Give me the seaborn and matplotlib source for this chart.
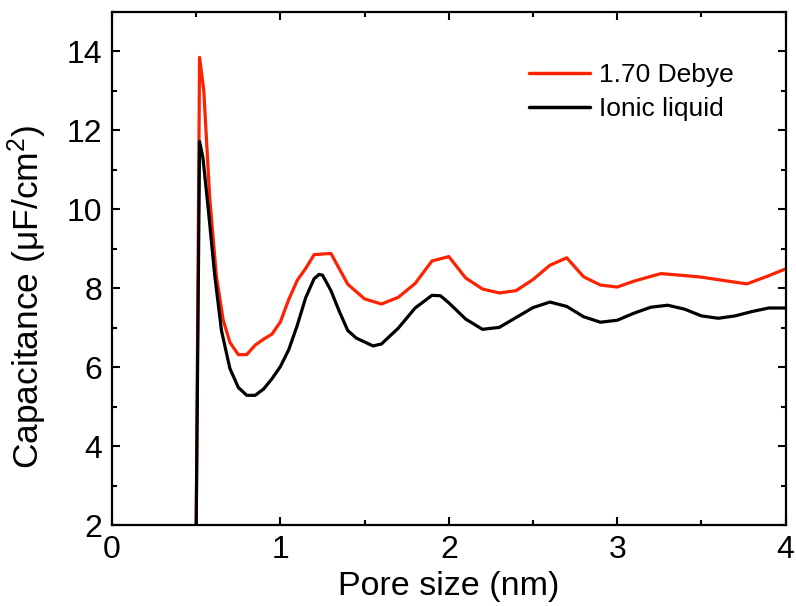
import matplotlib
matplotlib.use("Agg")
import matplotlib.pyplot as plt
from matplotlib.ticker import MultipleLocator
import seaborn as sns
import pandas as pd

# ---- data ----
debye_x = [0.50, 0.52, 0.545, 0.58, 0.62, 0.66, 0.70, 0.75, 0.80, 0.85, 0.90, 0.95,
           1.00, 1.05, 1.10, 1.15, 1.20, 1.30, 1.40, 1.50, 1.60, 1.70, 1.80, 1.90,
           2.00, 2.10, 2.20, 2.30, 2.40, 2.50, 2.60, 2.70, 2.80, 2.90, 3.00, 3.10,
           3.20, 3.26, 3.40, 3.50, 3.64, 3.77, 3.89, 4.00]
debye_y = [2.0, 13.84, 13.0, 10.3, 8.3, 7.2, 6.63, 6.32, 6.32, 6.56, 6.71, 6.84,
           7.15, 7.72, 8.2, 8.5, 8.85, 8.88, 8.1, 7.73, 7.6, 7.77, 8.12, 8.69,
           8.8, 8.26, 7.98, 7.88, 7.94, 8.22, 8.58, 8.77, 8.29, 8.08, 8.03, 8.18,
           8.3, 8.37, 8.32, 8.28, 8.19, 8.11, 8.3, 8.49]

ionic_x = [0.50, 0.52, 0.54, 0.57, 0.61, 0.65, 0.70, 0.75, 0.80, 0.85, 0.90, 0.95,
           1.00, 1.05, 1.10, 1.15, 1.20, 1.23, 1.25, 1.30, 1.35, 1.40, 1.45, 1.55,
           1.60, 1.70, 1.80, 1.90, 1.95, 2.00, 2.10, 2.20, 2.30, 2.40, 2.50, 2.60,
           2.70, 2.80, 2.90, 3.00, 3.10, 3.20, 3.30, 3.40, 3.50, 3.60, 3.70, 3.80,
           3.90, 4.00]
ionic_y = [2.0, 11.71, 11.3, 10.07, 8.33, 6.93, 5.97, 5.49, 5.29, 5.29, 5.45, 5.71,
           6.02, 6.45, 7.06, 7.76, 8.24, 8.35, 8.33, 7.94, 7.41, 6.93, 6.74, 6.54,
           6.59, 6.99, 7.50, 7.82, 7.81, 7.63, 7.22, 6.96, 7.01, 7.26, 7.51, 7.65,
           7.54, 7.28, 7.14, 7.19, 7.37, 7.52, 7.57, 7.47, 7.30, 7.24, 7.30, 7.41,
           7.50, 7.50]

series_names = ["1.70 Debye", "Ionic liquid"]
series_colors = ["#FF2200", "#000000"]

df = pd.concat([
    pd.DataFrame({"x": debye_x, "y": debye_y, "series": series_names[0]}),
    pd.DataFrame({"x": ionic_x, "y": ionic_y, "series": series_names[1]}),
], ignore_index=True)

sns.set_theme(style="ticks")
plt.rcParams["font.family"] = ["Liberation Sans", "DejaVu Sans"]
plt.rcParams["mathtext.fontset"] = "custom"
plt.rcParams["mathtext.rm"] = "Liberation Sans"
plt.rcParams["mathtext.it"] = "Liberation Sans:italic"
plt.rcParams["text.color"] = "black"
plt.rcParams["axes.labelcolor"] = "black"
plt.rcParams["xtick.color"] = "black"
plt.rcParams["ytick.color"] = "black"

fig = plt.figure(figsize=(7.96, 6.06), dpi=100)
ax = fig.add_axes([0.1407, 0.133, 0.8463, 0.848])

sns.lineplot(data=df, x="x", y="y", hue="series", hue_order=series_names,
             palette=dict(zip(series_names, series_colors)), sort=False,
             estimator=None, linewidth=2.3, ax=ax)

ax.set_xlim(0, 4)
ax.set_ylim(2, 15)
ax.xaxis.set_major_locator(MultipleLocator(1))
ax.xaxis.set_minor_locator(MultipleLocator(0.5))
ax.yaxis.set_major_locator(MultipleLocator(2))
ax.yaxis.set_minor_locator(MultipleLocator(1))
ax.tick_params(which="both", direction="in", top=True, right=True,
               width=1.5, colors="black")
ax.tick_params(which="major", length=6, labelsize=23, pad=7)
ax.tick_params(which="minor", length=3.5)
for s in ax.spines.values():
    s.set_linewidth(1.6)
    s.set_color("black")

ax.set_xlabel("Pore size (nm)", fontsize=24.5, labelpad=4, color="black")
ax.set_ylabel("Capacitance (μF/cm$^2$)", fontsize=25.5, color="black")
ax.yaxis.set_label_coords(-0.093, 0.445)

leg = ax.legend(loc="center left", bbox_to_anchor=(0.619, 0.843), frameon=False,
                fontsize=19, handlelength=2.3, handletextpad=0.35,
                labelspacing=0.38, borderpad=0, borderaxespad=0)
for line in leg.get_lines():
    line.set_linewidth(2.5)

fig.savefig("out.png", dpi=100)
